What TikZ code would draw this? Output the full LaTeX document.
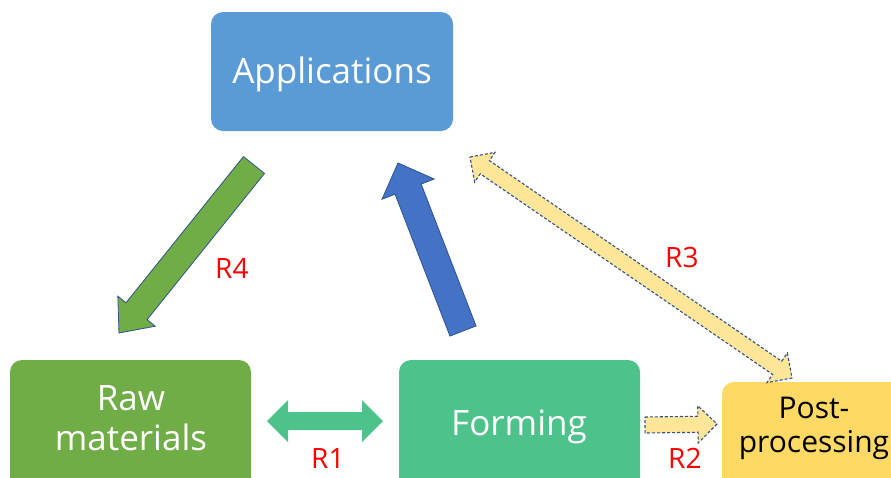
\documentclass[tikz,border=0pt]{standalone}
\usepackage{fontspec}
\setmainfont{Open Sans}
\usetikzlibrary{calc}

\definecolor{appblue}{HTML}{5B9BD5}
\definecolor{rawgreen}{HTML}{70AD47}
\definecolor{formgreen}{HTML}{4DC38B}
\definecolor{postyellow}{HTML}{FFD966}
\definecolor{lightyellow}{HTML}{FFE699}
\definecolor{arrowblue}{HTML}{4472C4}
\definecolor{edgeblue}{HTML}{2F528F}
\definecolor{labelred}{HTML}{FF0000}

% single block arrow: #1 style, #2 tail, #3 tip, #4 half shaft width, #5 half head width, #6 head length
\newcommand\blockarrow[6]{%
  \coordinate (hb) at ($(#3)!#6!(#2)$);
  \path[#1] ($(#2)!#4!90:(#3)$) -- ($(hb)!#4!90:(#3)$) -- ($(hb)!#5!90:(#3)$)
    -- (#3) -- ($(hb)!#5!-90:(#3)$) -- ($(hb)!#4!-90:(#3)$)
    -- ($(#2)!#4!-90:(#3)$) -- cycle;
}
% double block arrow: #1 style, #2 and #3 tips, #4 half shaft width, #5 half head width, #6 head length
\newcommand\doubleblockarrow[6]{%
  \coordinate (ha) at ($(#2)!#6!(#3)$);
  \coordinate (hb) at ($(#3)!#6!(#2)$);
  \path[#1] (#2) -- ($(ha)!#5!90:(#3)$) -- ($(ha)!#4!90:(#3)$)
    -- ($(hb)!#4!90:(#3)$) -- ($(hb)!#5!90:(#3)$) -- (#3)
    -- ($(hb)!#5!-90:(#3)$) -- ($(hb)!#4!-90:(#3)$)
    -- ($(ha)!#4!-90:(#3)$) -- ($(ha)!#5!-90:(#3)$) -- cycle;
}

\begin{document}
\begin{tikzpicture}[x=1pt,y=-1pt,
  box/.style={rectangle, rounded corners=12pt, draw=none, inner sep=0pt},
  boxtext/.style={anchor=base, inner sep=0pt, text=white,
    font=\fontsize{35}{42}\selectfont},
  posttext/.style={anchor=base, inner sep=0pt, text=black,
    font=\fontsize{30}{36}\selectfont},
  rlabel/.style={anchor=base west, inner sep=0pt, text=labelred,
    font=\fontsize{28}{32}\selectfont},
  solidarrow/.style={draw=edgeblue, line width=0.8pt, line join=miter},
  dasharrow/.style={fill=lightyellow, draw=edgeblue, line width=1.1pt,
    dash pattern=on 3pt off 2pt}
]
\useasboundingbox (0,0) rectangle (891,477);
\clip (0,0) rectangle (891,477);

% boxes and their captions
\node[box, fill=appblue, minimum width=242pt, minimum height=119pt] (app) at (332,71.5) {};
\node[boxtext] (apptxt) at (332,83) {Applications};
\node[box, fill=rawgreen, minimum width=241pt, minimum height=150pt] (raw) at (130.5,435) {};
\node[boxtext] (rawtxt1) at (131,410) {Raw};
\node[boxtext] (rawtxt2) at (131,450) {materials};
\node[box, fill=formgreen, minimum width=241pt, minimum height=150pt] (form) at (519.5,435) {};
\node[boxtext] (formtxt) at (519,435) {Forming};
\node[box, fill=postyellow, minimum width=200pt, minimum height=150pt] (post) at (822,457) {};
\node[posttext] (posttxt1) at (814,418) {Post-};
\node[posttext] (posttxt2) at (814,452) {processing};

% arrow end points
\coordinate (r4a) at (254,165);
\coordinate (r4b) at (119,333);
\coordinate (bla) at (463,331);
\coordinate (blb) at (398,163);
\coordinate (r1a) at (267,421);
\coordinate (r1b) at (383,421);
\coordinate (r2a) at (645,425);
\coordinate (r2b) at (717,424);
\coordinate (r3a) at (470,157);
\coordinate (r3b) at (792,378);

% arrows
\blockarrow{solidarrow, fill=rawgreen}{r4a}{r4b}{13.5pt}{24pt}{28pt}
\blockarrow{solidarrow, fill=arrowblue}{bla}{blb}{14pt}{28pt}{28pt}
\doubleblockarrow{fill=formgreen}{r1a}{r1b}{9pt}{21pt}{21pt}
\blockarrow{dasharrow}{r2a}{r2b}{8pt}{18.5pt}{19pt}
\doubleblockarrow{dasharrow}{r3a}{r3b}{8pt}{18pt}{18pt}

% relation labels
\node[rlabel] (l4) at (215,278) {R4};
\node[rlabel] (l3) at (665,267) {R3};
\node[rlabel] (l1) at (311,468) {R1};
\node[rlabel] (l2) at (668,468) {R2};
\end{tikzpicture}
\end{document}
